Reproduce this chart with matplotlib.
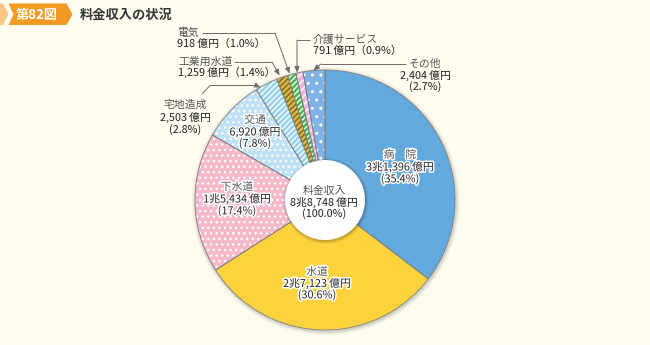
import matplotlib
matplotlib.use("Agg")
import matplotlib.pyplot as plt
from matplotlib.patches import Circle, Polygon
import matplotlib.patheffects as pe

plt.rcParams['font.family'] = ['Noto Sans CJK JP', 'DejaVu Sans']
plt.rcParams['hatch.linewidth'] = 1.0

# 料金収入の内訳（億円）
categories = ['病院', '水道', '下水道', '交通', '宅地造成', '工業用水道', '電気', '介護サービス', 'その他']
values = [31396, 27123, 15434, 6920, 2503, 1259, 918, 791, 2404]
shares = [35.4, 30.6, 17.4, 7.8, 2.8, 1.4, 1.0, 0.9, 2.7]
total_label = '料金収入'
total_value = 88748
total_share = 100.0

fills = ['#62A9DD', '#FDD33D', '#F5B9C9', '#BEE1F6', '#94D2F1',
         '#D9B646', '#45B649', '#EBB8E0', '#80B3E6']
hatches = [None, None, '...', '...', '//////', '//////', '//////', '////', '..']
hatch_colors = ['white', 'white', 'white', 'white', 'white',
                '#7C6620', 'white', 'white', 'white']

BG = '#FFFDF0'
W, H = 650, 345
FS = 7.8


def Y(y):
    return H - y


def oku(v):
    if v >= 10000:
        return f'{v // 10000}兆{v % 10000:,}\u2009億円'
    return f'{v:,}\u2009億円'


fig = plt.figure(figsize=(6.5, 3.45), dpi=100)
fig.patch.set_facecolor(BG)
ax = fig.add_axes([0, 0, 1, 1])

cx, cy, R = 325, Y(200), 130
r_in = 40

# soft shadow behind the ring
for d, a in [(4, 0.04), (2.5, 0.06), (1.2, 0.08)]:
    ax.add_patch(Circle((cx + 0.8, cy - 1.2), R + d, fc='black', ec='none',
                        alpha=a, zorder=0))

wedges, _ = ax.pie(values, startangle=90, counterclock=False,
                   center=(cx, cy), radius=R, colors=fills,
                   wedgeprops=dict(linewidth=0), frame=True)
for w, h, hc in zip(wedges, hatches, hatch_colors):
    w.set_zorder(1)
    if h:
        w.set_hatch(h)
        w.set_edgecolor(hc)
        w.set_linewidth(0)

outl, _ = ax.pie(values, startangle=90, counterclock=False,
                 center=(cx, cy), radius=R,
                 wedgeprops=dict(fill=False, edgecolor='#7f7f7f', linewidth=0.6),
                 frame=True)
for w in outl:
    w.set_zorder(2)

# centre disc with its own shadow
for d, a in [(3, 0.05), (1.8, 0.08), (0.8, 0.1)]:
    ax.add_patch(Circle((cx + 0.6, cy - 1.0), r_in + d, fc='black', ec='none',
                        alpha=a, zorder=3))
ax.add_patch(Circle((cx, cy), r_in, fc='white', ec='none', zorder=4))

halo = [pe.withStroke(linewidth=2.2, foreground='white')]


def block(x, ys, lines, ha='center', stroke=True):
    for i, (yy, s) in enumerate(zip(ys, lines)):
        ax.text(x, Y(yy), s, ha=ha, va='center', fontsize=FS,
                color='#555555' if i == 0 else '#222222',
                path_effects=halo if stroke else None, zorder=6)


def pct(p):
    return f'({p:.1f}%)'


def pct_w(p):
    return f'（{p:.1f}%）'


# labels inside the ring
block(400, [155, 167, 179], ['病　院', oku(values[0]), pct(shares[0])])
block(317, [272, 283.5, 295], [categories[1], oku(values[1]), pct(shares[1])])
block(237, [187, 199, 211], [categories[2], oku(values[2]), pct(shares[2])])
block(255, [120, 132, 143.5], [categories[3], oku(values[3]), pct(shares[3])])
block(324, [191, 202, 213.5], [total_label, oku(total_value), pct(total_share)],
      stroke=False)

# labels outside the ring
block(185, [105, 117.5, 129.5], [categories[4], oku(values[4]), pct(shares[4])],
      stroke=False)
block(177, [33, 43.5], [categories[6], oku(values[6]) + pct_w(shares[6])],
      ha='left', stroke=False)
block(178, [62, 72.5], [categories[5], oku(values[5]) + pct_w(shares[5])],
      ha='left', stroke=False)
block(313, [40, 51], [categories[7], oku(values[7]) + pct_w(shares[7])],
      ha='left', stroke=False)
block(425, [64, 75, 86.5], [categories[8], oku(values[8]), pct(shares[8])],
      stroke=False)

# leader lines
LC = '#6b6b6b'


def leader(points):
    xs = [p[0] for p in points[:-1]]
    ys = [Y(p[1]) for p in points[:-1]]
    ax.plot(xs, ys, color=LC, lw=0.7, zorder=5, solid_capstyle='butt')
    ax.annotate('', xy=(points[-1][0], Y(points[-1][1])),
                xytext=(points[-2][0], Y(points[-2][1])),
                arrowprops=dict(arrowstyle='-|>,head_length=0.35,head_width=0.15',
                                color=LC, lw=0.7, shrinkA=0, shrinkB=0),
                zorder=5)


leader([(202, 33), (275, 33), (289.5, 73.5)])
leader([(234, 62), (272, 62), (279.5, 75.5)])
leader([(310, 40), (297, 40), (297, 72.5)])
leader([(406, 64), (321, 64), (313.5, 70.5)])
leader([(202, 94), (210, 85.5), (256, 85.5), (260.5, 87.5)])

# heading
ax.add_patch(Polygon([(0, Y(3.5)), (3, Y(3.5)), (8.5, Y(14.3)), (3, Y(25)), (0, Y(25))],
                     closed=True, fc='#F8C685', ec='none', zorder=5))
ax.add_patch(Polygon([(8.5, Y(3.5)), (66.5, Y(3.5)), (72.5, Y(14.3)),
                      (66.5, Y(25)), (8.5, Y(25)), (13.5, Y(14.3))],
                     closed=True, fc='#F29A24', ec='none', zorder=5))
ax.text(37, Y(14.5), '第82図', ha='center', va='center', fontsize=9.5,
        fontweight='bold', color='white', zorder=6)
ax.text(80, Y(14.5), '料金収入の状況', ha='left', va='center', fontsize=9.5,
        fontweight='bold', color='#333333', zorder=6)

ax.set_xlim(0, W)
ax.set_ylim(0, H)
ax.set_aspect('equal')
ax.axis('off')

fig.savefig('out.png', dpi=100, facecolor=BG)
